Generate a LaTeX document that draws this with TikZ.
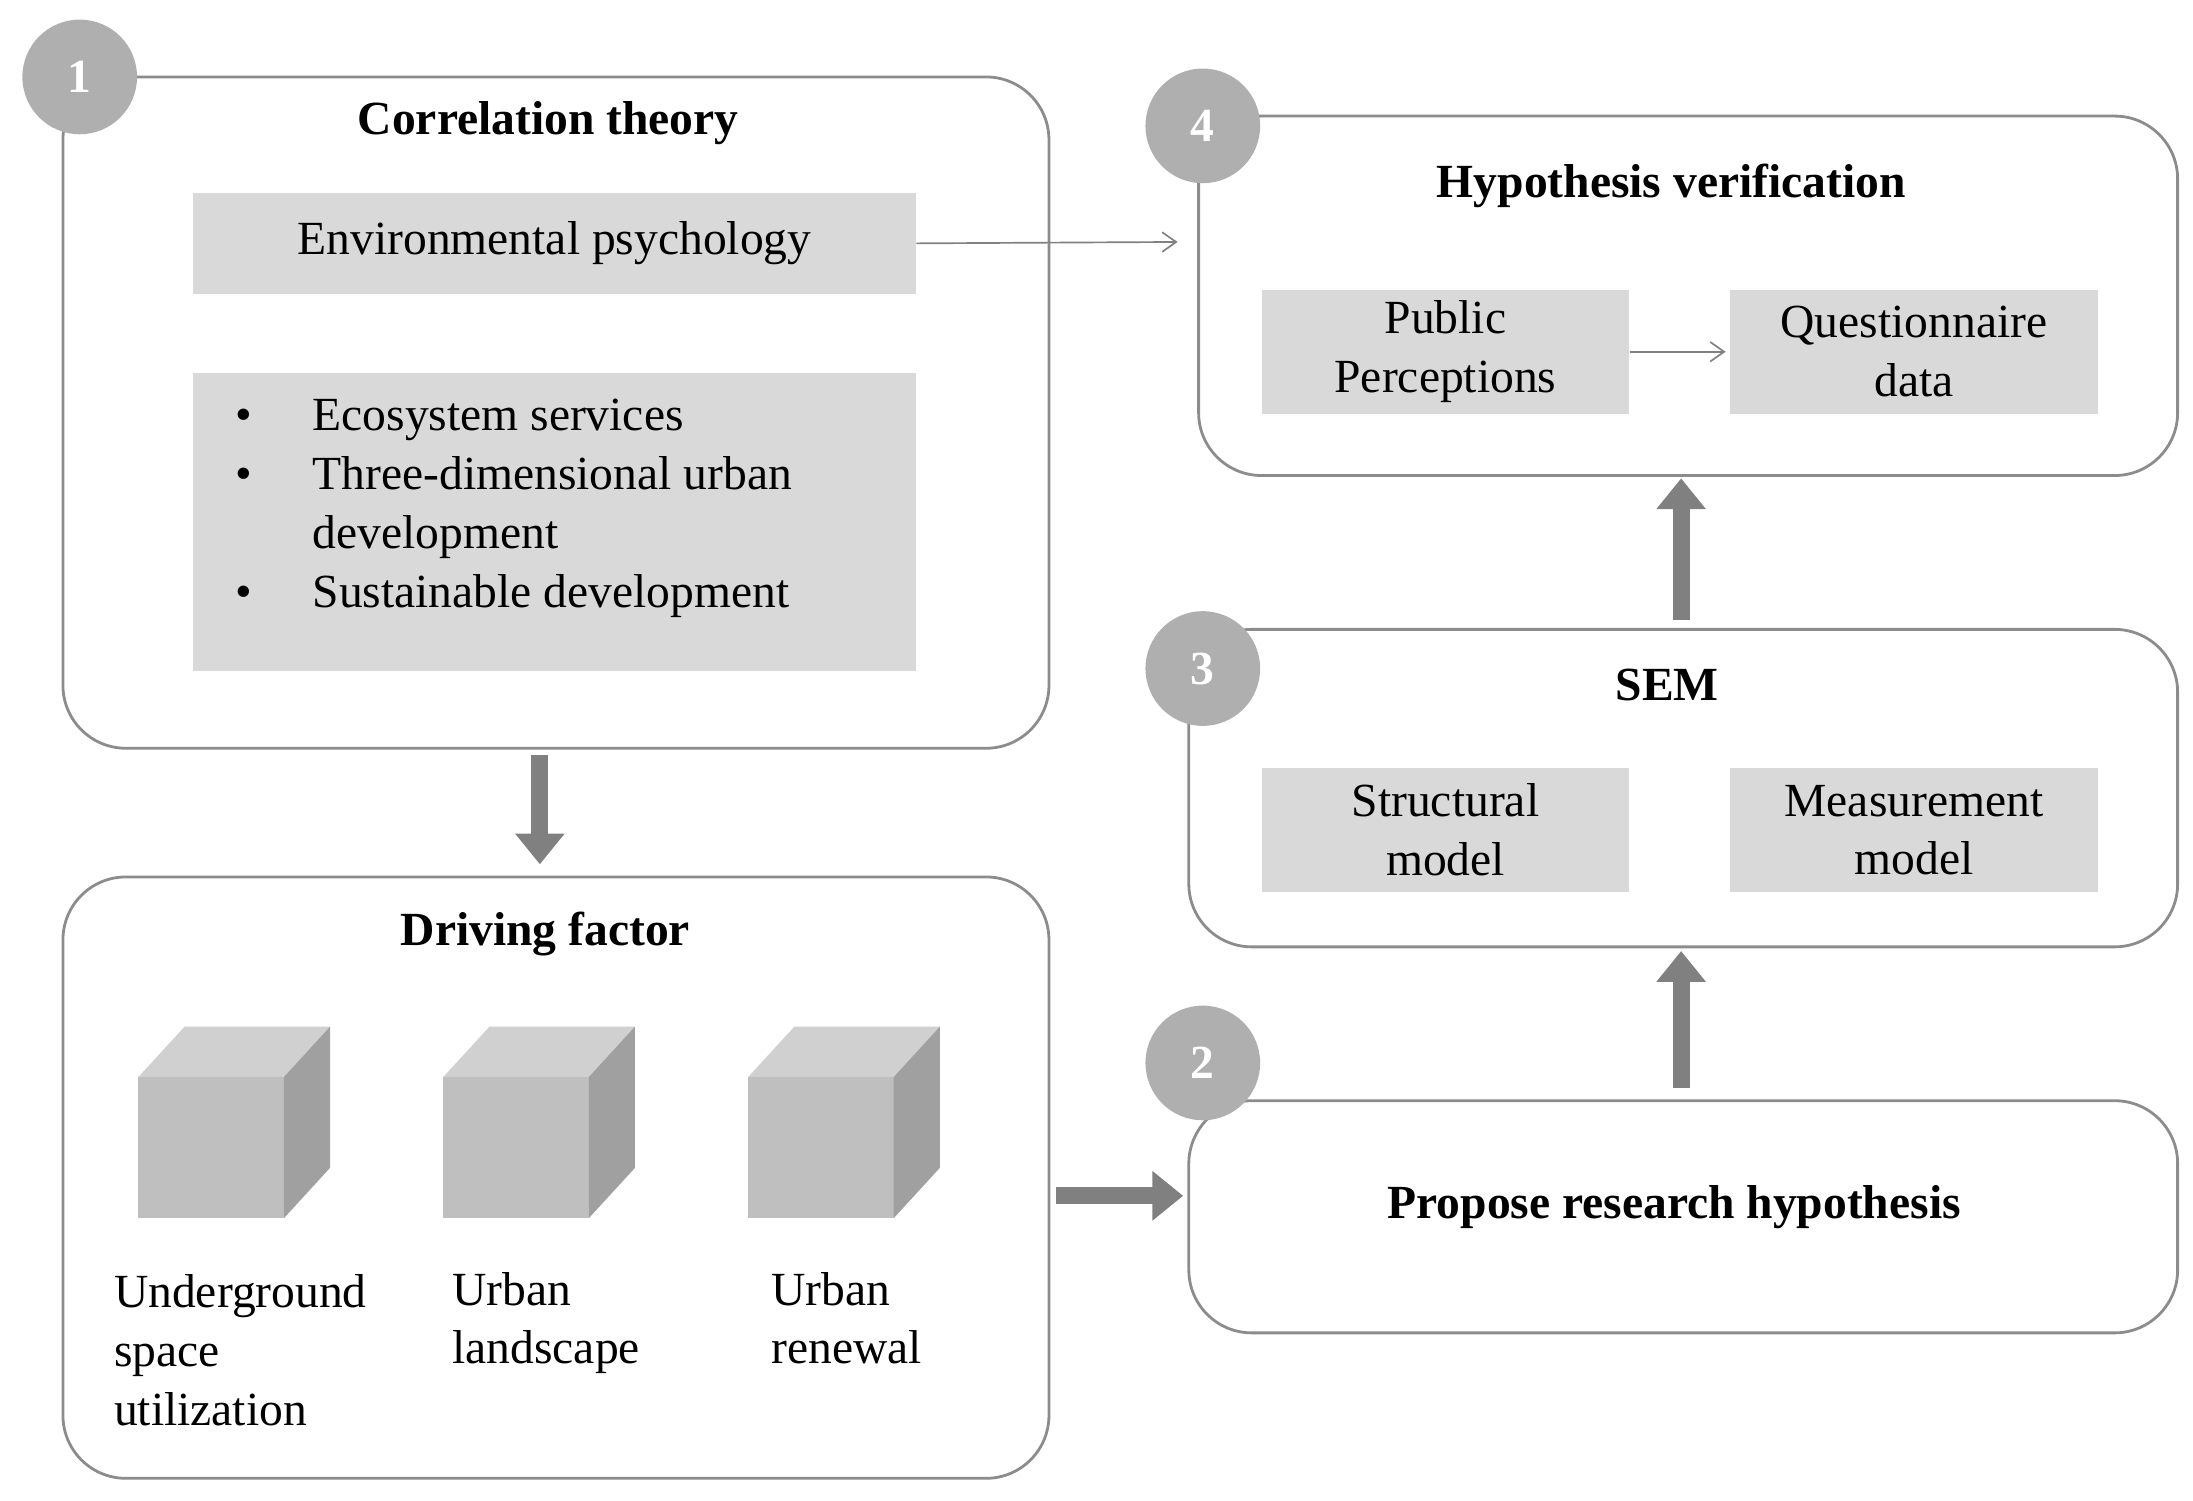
\documentclass[tikz,border=0pt]{standalone}
\usepackage{fontspec}
\setmainfont{Liberation Serif}
\usetikzlibrary{arrows.meta,positioning}
\definecolor{boxgray}{RGB}{217,217,217}
\definecolor{badgegray}{RGB}{175,175,175}
\definecolor{arrowgray}{RGB}{128,128,128}
\definecolor{cubefront}{RGB}{191,191,191}
\definecolor{cubetop}{RGB}{208,208,208}
\definecolor{cubeside}{RGB}{160,160,160}
\tikzset{
  panel/.style={draw=black!45,line width=2pt,rounded corners=45pt},
  inner/.style={fill=boxgray,inner sep=0pt},
  badge/.style={circle,fill=badgegray,minimum size=82pt,inner sep=0pt,text=white,font=\fontsize{34}{40}\selectfont\bfseries},
  title/.style={font=\fontsize{34}{40}\selectfont\bfseries},
  txt/.style={font=\fontsize{34}{42}\selectfont,align=center},
  thin arrow/.style={draw=arrowgray,line width=1.2pt,-{Straight Barb[length=10pt,width=14pt]}},
  thick arrow/.style={draw=arrowgray,line width=12pt,-{Triangle[length=22pt,width=34pt]}},
}
\newcommand{\cube}[2]{%
  \fill[cubefront] (#1,#2) rectangle ++(104,101);
  \fill[cubetop] (#1,#2) -- ++(33,-36) -- ++(104,0) -- ++(-33,36) -- cycle;
  \fill[cubeside] (#1+104,#2) -- ++(33,-36) -- ++(0,101) -- ++(-33,36) -- cycle;
}
\begin{document}
\begin{tikzpicture}[x=1pt,y=-1pt]
\useasboundingbox (0,0) rectangle (1568,1073);
% panels
\draw[panel] (45,55) rectangle (750,535);
\draw[panel] (45,627) rectangle (750,1057);
\draw[panel] (857,83) rectangle (1557,340);
\draw[panel] (850,450) rectangle (1557,677);
\draw[panel] (850,787) rectangle (1557,953);
% badges
\node[badge] (b1) at (57,55) {1};
\node[badge] (b4) at (860,90) {4};
\node[badge] (b3) at (860,478) {3};
\node[badge] (b2) at (860,760) {2};
% correlation theory
\node[title] (corr) at (392,88) {Correlation theory};
\node[inner,minimum width=517pt,minimum height=72pt,txt] (env) at (396.5,174) {Environmental psychology};
\node[inner,minimum width=517pt,minimum height=213pt] (bul) at (396.5,373.5) {};
\node[txt,align=left,anchor=north west] (bultxt) at (165,282) {%
  \makebox[55pt][l]{•}Ecosystem services\\
  \makebox[55pt][l]{•}Three-dimensional urban\\
  \makebox[55pt][l]{}development\\
  \makebox[55pt][l]{•}Sustainable development};
% hypothesis verification
\node[title] (hyp) at (1195,133) {Hypothesis verification};
\node[inner,minimum width=263pt,minimum height=89pt,txt] (pub) at (1033.5,251.5) {Public\\Perceptions};
\node[inner,minimum width=263pt,minimum height=89pt,txt] (que) at (1368.5,251.5) {Questionnaire\\data};
% SEM
\node[title] (sem) at (1192,490) {SEM};
\node[inner,minimum width=263pt,minimum height=89pt,txt] (str) at (1033.5,593.5) {Structural\\model};
\node[inner,minimum width=263pt,minimum height=89pt,txt] (mea) at (1368.5,593.5) {Measurement\\model};
% propose
\node[title] (prop) at (1197,863) {Propose research hypothesis};
% driving factor
\node[title] (drv) at (390,668) {Driving factor};
\cube{99}{770}
\cube{317}{770}
\cube{535}{770}
\node[txt,align=left,anchor=north west] (und) at (78,908) {Underground\\space\\utilization};
\node[txt,align=left,anchor=north west] (lan) at (320,906) {Urban\\landscape};
\node[txt,align=left,anchor=north west] (ren) at (548,906) {Urban\\renewal};
% connectors
\coordinate (envend) at (842,173);
\draw[thin arrow] (env.east) -- (envend);
\draw[thin arrow] (pub.east) -- ([xshift=-3pt]que.west);
\coordinate (up1s) at (1202,443);
\coordinate (up1e) at (1202,342);
\draw[thick arrow] (up1s) -- (up1e);
\coordinate (up2s) at (1202,778);
\coordinate (up2e) at (1202,680);
\draw[thick arrow] (up2s) -- (up2e);
\coordinate (dns) at (386,540);
\coordinate (dne) at (386,618);
\draw[thick arrow] (dns) -- (dne);
\coordinate (rts) at (755,855);
\coordinate (rte) at (846,855);
\draw[thick arrow] (rts) -- (rte);
\end{tikzpicture}
\end{document}
